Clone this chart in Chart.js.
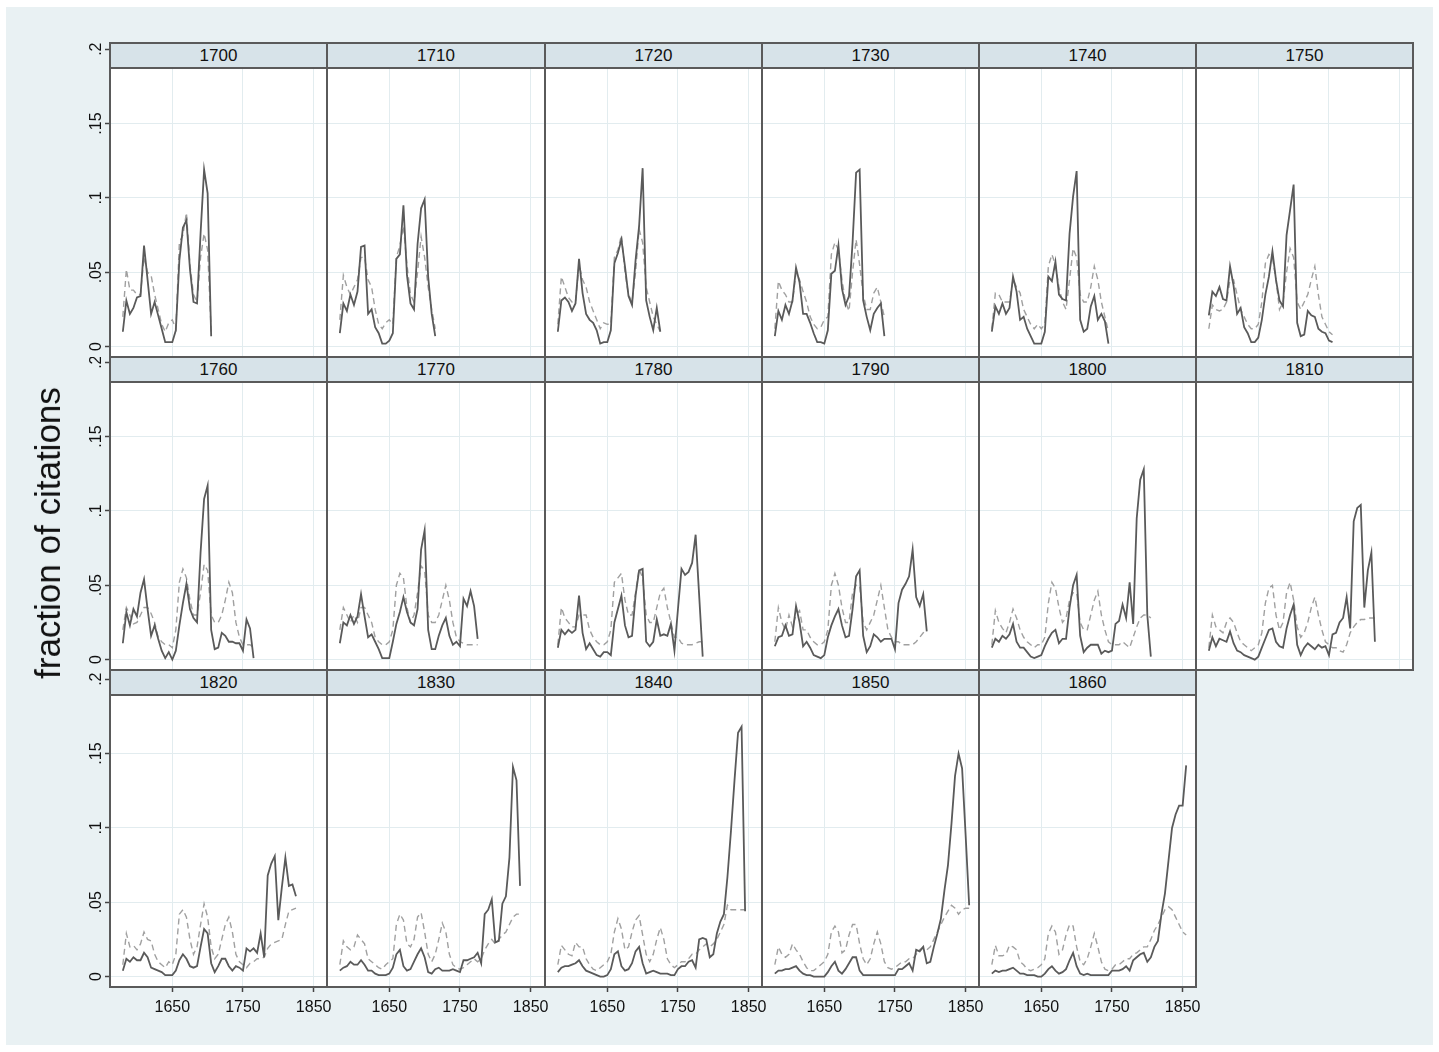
<!DOCTYPE html>
<html>
<head>
<meta charset="utf-8">
<script src="https://cdn.jsdelivr.net/npm/chart.js@4.4.1/dist/chart.umd.min.js"></script>
<style>
  html, body { margin: 0; padding: 0; background: #fff; }
  body { width: 1439px; height: 1052px; position: relative; overflow: hidden;
         font-family: "Liberation Sans", Arial, Helvetica, sans-serif; }
  #bg { position: absolute; left: 6px; top: 7px; width: 1427px; height: 1038px; background: #E9F1F3; }
  .plot { position: absolute; background: #fff; z-index: 1; }
  canvas { position: absolute; z-index: 2; }
  .hdr { position: absolute; z-index: 3; box-sizing: border-box; background: #D7E3E9;
         border: 2px solid #5a5a5a; text-align: center; font-size: 17px; line-height: 23px; color: #111; }
  .edge { position: absolute; z-index: 4; box-sizing: border-box; border: 2px solid #5a5a5a; pointer-events: none; }
  #ytitle { position: absolute; z-index: 5; left: 48px; top: 533px; white-space: nowrap;
            transform: translate(-50%, -50%) rotate(-90deg); font-size: 35px; color: #111; }
</style>
</head>
<body>
<div id="bg"></div>
<div id="ytitle">fraction of citations</div>
<script>
// x positions of the 5-year bins
const YEARS = [1580,1585,1590,1595,1600,1605,1610,1615,1620,1625,1630,1635,1640,1645,1650,1655,
  1660,1665,1670,1675,1680,1685,1690,1695,1700,1705,1710,1715,1720,1725,1730,1735,1740,1745,
  1750,1755,1760,1765,1770,1775,1780,1785,1790,1795,1800,1805,1810,1815,1820,1825,1830,1835,
  1840,1845,1850,1855];
const X_TICKS = [1650, 1750, 1850];
const Y_TICKS = [0, 0.05, 0.1, 0.15, 0.2];

// solid = citations of the panel decade, dashed = comparison series
const solid1700 = [0.010,0.031,0.022,0.026,0.033,0.034,0.068,0.045,0.022,0.030,0.021,0.012,0.003,0.003,0.003,0.011,0.058,0.080,0.085,0.052,0.030,0.029,0.076,0.119,0.103,0.007];
const dashed1700 = [0.020,0.052,0.038,0.038,0.035,0.035,0.060,0.050,0.048,0.035,0.025,0.015,0.010,0.016,0.018,0.012,0.070,0.075,0.090,0.055,0.035,0.030,0.060,0.076,0.065,0.010];
const solid1710 = [0.009,0.029,0.024,0.035,0.028,0.037,0.067,0.068,0.022,0.025,0.013,0.009,0.002,0.002,0.004,0.009,0.059,0.062,0.095,0.048,0.029,0.025,0.069,0.093,0.099,0.047,0.022,0.007];
const dashed1710 = [0.018,0.048,0.040,0.035,0.040,0.045,0.060,0.060,0.045,0.040,0.025,0.015,0.012,0.016,0.018,0.015,0.060,0.068,0.081,0.055,0.035,0.030,0.050,0.074,0.060,0.040,0.025,0.012];
const solid1720 = [0.010,0.031,0.033,0.030,0.024,0.029,0.059,0.036,0.022,0.018,0.016,0.011,0.002,0.003,0.003,0.011,0.056,0.063,0.072,0.054,0.034,0.028,0.058,0.081,0.120,0.031,0.020,0.011,0.026,0.010];
const dashed1720 = [0.015,0.047,0.040,0.033,0.030,0.030,0.055,0.045,0.040,0.030,0.024,0.018,0.012,0.016,0.015,0.015,0.060,0.065,0.075,0.050,0.035,0.030,0.050,0.079,0.070,0.040,0.030,0.020,0.015,0.010];
const solid1730 = [0.007,0.024,0.018,0.028,0.022,0.031,0.053,0.043,0.022,0.022,0.016,0.009,0.003,0.003,0.002,0.011,0.049,0.051,0.068,0.039,0.028,0.034,0.070,0.117,0.119,0.031,0.020,0.011,0.022,0.026,0.029,0.007];
const dashed1730 = [0.012,0.044,0.038,0.035,0.030,0.030,0.050,0.045,0.037,0.030,0.020,0.015,0.012,0.013,0.018,0.020,0.062,0.070,0.065,0.045,0.030,0.024,0.050,0.072,0.055,0.035,0.025,0.025,0.036,0.040,0.030,0.020];
const solid1740 = [0.010,0.027,0.022,0.029,0.022,0.026,0.047,0.037,0.018,0.020,0.012,0.007,0.002,0.002,0.002,0.010,0.047,0.044,0.057,0.035,0.032,0.031,0.076,0.101,0.118,0.018,0.010,0.012,0.027,0.034,0.018,0.022,0.017,0.002];
const dashed1740 = [0.012,0.036,0.035,0.030,0.030,0.030,0.045,0.040,0.036,0.025,0.020,0.015,0.012,0.015,0.012,0.015,0.054,0.062,0.055,0.040,0.030,0.025,0.045,0.066,0.060,0.035,0.030,0.030,0.040,0.054,0.045,0.030,0.020,0.010];
const solid1750 = [0.021,0.037,0.034,0.040,0.032,0.031,0.054,0.041,0.022,0.026,0.013,0.009,0.003,0.003,0.006,0.018,0.035,0.047,0.064,0.045,0.031,0.027,0.075,0.092,0.109,0.016,0.007,0.008,0.024,0.021,0.020,0.012,0.010,0.009,0.004,0.003];
const dashed1750 = [0.012,0.028,0.025,0.024,0.025,0.030,0.045,0.045,0.035,0.025,0.020,0.015,0.012,0.012,0.015,0.030,0.056,0.062,0.060,0.045,0.025,0.030,0.050,0.066,0.060,0.030,0.025,0.030,0.035,0.045,0.054,0.035,0.020,0.015,0.010,0.008];
const solid1760 = [0.011,0.032,0.023,0.034,0.029,0.045,0.054,0.034,0.016,0.023,0.014,0.006,0.001,0.005,0.000,0.006,0.023,0.038,0.051,0.034,0.028,0.025,0.072,0.108,0.117,0.020,0.007,0.008,0.018,0.016,0.012,0.012,0.011,0.011,0.006,0.027,0.021,0.001];
const dashed1760 = [0.020,0.035,0.030,0.024,0.025,0.030,0.035,0.035,0.031,0.025,0.015,0.012,0.010,0.010,0.008,0.020,0.052,0.061,0.055,0.040,0.030,0.030,0.045,0.064,0.060,0.030,0.025,0.025,0.030,0.040,0.052,0.045,0.025,0.015,0.010,0.010,0.010,0.008];
const solid1770 = [0.011,0.025,0.023,0.030,0.024,0.029,0.044,0.029,0.015,0.017,0.012,0.007,0.001,0.001,0.001,0.012,0.024,0.032,0.042,0.032,0.025,0.023,0.034,0.074,0.087,0.020,0.007,0.007,0.016,0.023,0.028,0.016,0.010,0.012,0.009,0.041,0.036,0.046,0.036,0.014];
const dashed1770 = [0.020,0.035,0.030,0.025,0.030,0.025,0.035,0.035,0.030,0.025,0.015,0.012,0.010,0.010,0.012,0.020,0.050,0.058,0.055,0.035,0.025,0.030,0.045,0.063,0.060,0.030,0.025,0.025,0.030,0.040,0.050,0.040,0.025,0.015,0.012,0.011,0.010,0.010,0.010,0.010];
const solid1780 = [0.008,0.020,0.017,0.020,0.018,0.020,0.043,0.018,0.007,0.011,0.007,0.003,0.002,0.005,0.005,0.003,0.025,0.034,0.043,0.023,0.015,0.016,0.043,0.060,0.061,0.012,0.009,0.012,0.027,0.016,0.017,0.016,0.024,0.006,0.034,0.061,0.057,0.059,0.065,0.084,0.043,0.002];
const dashed1780 = [0.010,0.035,0.028,0.025,0.022,0.022,0.030,0.030,0.030,0.020,0.015,0.012,0.010,0.010,0.012,0.020,0.052,0.055,0.058,0.040,0.030,0.030,0.045,0.061,0.055,0.030,0.025,0.025,0.035,0.045,0.048,0.035,0.025,0.015,0.015,0.011,0.010,0.010,0.010,0.011,0.012,0.012];
const solid1790 = [0.009,0.015,0.016,0.023,0.016,0.017,0.036,0.025,0.009,0.012,0.008,0.003,0.002,0.001,0.003,0.015,0.023,0.029,0.034,0.023,0.015,0.016,0.034,0.056,0.060,0.016,0.005,0.009,0.017,0.015,0.012,0.014,0.014,0.014,0.007,0.038,0.047,0.051,0.056,0.074,0.042,0.036,0.044,0.019];
const dashed1790 = [0.012,0.035,0.025,0.020,0.030,0.022,0.030,0.033,0.020,0.020,0.015,0.012,0.010,0.010,0.012,0.020,0.050,0.058,0.050,0.035,0.025,0.025,0.045,0.050,0.050,0.025,0.020,0.025,0.030,0.040,0.050,0.035,0.020,0.015,0.012,0.012,0.010,0.010,0.010,0.010,0.012,0.015,0.018,0.020];
const solid1800 = [0.008,0.014,0.012,0.016,0.014,0.017,0.024,0.012,0.008,0.008,0.005,0.002,0.001,0.002,0.003,0.009,0.014,0.018,0.020,0.011,0.014,0.014,0.035,0.050,0.057,0.016,0.005,0.008,0.010,0.010,0.010,0.004,0.006,0.005,0.006,0.024,0.026,0.037,0.028,0.052,0.024,0.095,0.121,0.128,0.030,0.002];
const dashed1800 = [0.010,0.033,0.025,0.021,0.018,0.025,0.034,0.028,0.020,0.015,0.012,0.010,0.008,0.010,0.010,0.015,0.038,0.052,0.048,0.035,0.025,0.028,0.040,0.045,0.045,0.025,0.020,0.020,0.030,0.040,0.046,0.030,0.020,0.012,0.010,0.010,0.010,0.012,0.010,0.008,0.015,0.022,0.028,0.030,0.030,0.028];
const solid1810 = [0.006,0.015,0.009,0.014,0.013,0.012,0.019,0.011,0.006,0.005,0.003,0.002,0.001,0.000,0.002,0.008,0.014,0.020,0.021,0.012,0.009,0.008,0.021,0.030,0.037,0.010,0.003,0.008,0.011,0.009,0.007,0.010,0.008,0.009,0.003,0.017,0.018,0.025,0.028,0.042,0.021,0.093,0.102,0.104,0.035,0.060,0.072,0.012];
const dashed1810 = [0.008,0.030,0.022,0.020,0.018,0.025,0.028,0.025,0.018,0.012,0.010,0.008,0.006,0.008,0.010,0.018,0.038,0.048,0.050,0.030,0.020,0.025,0.045,0.052,0.040,0.022,0.015,0.018,0.025,0.035,0.042,0.030,0.020,0.012,0.010,0.008,0.008,0.006,0.005,0.010,0.018,0.022,0.025,0.027,0.027,0.028,0.028,0.028];
const solid1820 = [0.004,0.012,0.010,0.013,0.011,0.011,0.016,0.013,0.006,0.005,0.004,0.003,0.001,0.001,0.001,0.004,0.011,0.015,0.012,0.007,0.006,0.007,0.020,0.032,0.029,0.009,0.003,0.007,0.012,0.012,0.007,0.004,0.007,0.006,0.004,0.019,0.017,0.019,0.016,0.029,0.013,0.068,0.076,0.081,0.038,0.060,0.080,0.061,0.062,0.054];
const dashed1820 = [0.008,0.029,0.020,0.021,0.018,0.022,0.030,0.025,0.024,0.015,0.010,0.008,0.006,0.010,0.008,0.015,0.042,0.045,0.040,0.025,0.015,0.020,0.035,0.049,0.040,0.020,0.012,0.015,0.025,0.035,0.040,0.030,0.015,0.010,0.008,0.006,0.009,0.010,0.012,0.012,0.013,0.019,0.022,0.023,0.024,0.025,0.035,0.044,0.045,0.046];
const solid1830 = [0.004,0.006,0.007,0.010,0.008,0.008,0.011,0.008,0.004,0.004,0.002,0.001,0.001,0.001,0.002,0.006,0.015,0.018,0.007,0.004,0.005,0.010,0.015,0.019,0.013,0.003,0.002,0.005,0.006,0.004,0.004,0.004,0.005,0.004,0.003,0.011,0.011,0.012,0.013,0.016,0.009,0.042,0.045,0.052,0.023,0.024,0.049,0.054,0.080,0.141,0.132,0.061];
const dashed1830 = [0.008,0.024,0.020,0.018,0.020,0.028,0.025,0.022,0.012,0.010,0.008,0.006,0.005,0.008,0.010,0.012,0.035,0.042,0.038,0.022,0.020,0.025,0.040,0.043,0.030,0.015,0.010,0.015,0.025,0.036,0.030,0.015,0.008,0.006,0.005,0.006,0.008,0.010,0.012,0.010,0.012,0.018,0.022,0.025,0.022,0.025,0.028,0.030,0.035,0.040,0.042,0.042];
const solid1840 = [0.003,0.006,0.007,0.007,0.008,0.009,0.011,0.007,0.004,0.003,0.002,0.001,0.000,0.000,0.001,0.005,0.015,0.017,0.007,0.004,0.005,0.009,0.017,0.020,0.009,0.002,0.003,0.004,0.003,0.002,0.002,0.002,0.001,0.001,0.005,0.007,0.007,0.010,0.011,0.006,0.025,0.026,0.025,0.013,0.015,0.029,0.037,0.042,0.067,0.098,0.132,0.164,0.168,0.044];
const dashed1840 = [0.008,0.021,0.018,0.015,0.014,0.023,0.020,0.020,0.012,0.008,0.005,0.004,0.006,0.008,0.010,0.015,0.030,0.039,0.032,0.018,0.020,0.030,0.038,0.041,0.028,0.015,0.010,0.015,0.025,0.033,0.025,0.012,0.008,0.006,0.008,0.010,0.010,0.012,0.015,0.015,0.018,0.020,0.022,0.020,0.022,0.025,0.030,0.035,0.048,0.045,0.045,0.045,0.045,0.045];
const solid1850 = [0.002,0.004,0.004,0.005,0.005,0.006,0.007,0.004,0.002,0.001,0.001,0.000,0.000,0.000,0.000,0.003,0.007,0.010,0.004,0.002,0.005,0.009,0.013,0.013,0.004,0.001,0.001,0.001,0.001,0.001,0.001,0.001,0.001,0.001,0.001,0.005,0.005,0.007,0.009,0.004,0.018,0.017,0.020,0.009,0.010,0.020,0.029,0.039,0.058,0.075,0.103,0.135,0.150,0.140,0.095,0.048];
const dashed1850 = [0.008,0.020,0.015,0.013,0.015,0.022,0.018,0.015,0.010,0.006,0.004,0.004,0.006,0.008,0.010,0.015,0.030,0.034,0.030,0.016,0.018,0.028,0.035,0.035,0.022,0.012,0.008,0.012,0.022,0.030,0.022,0.010,0.006,0.005,0.006,0.008,0.010,0.010,0.012,0.012,0.015,0.018,0.020,0.018,0.020,0.025,0.030,0.035,0.040,0.044,0.048,0.046,0.042,0.045,0.046,0.046];
const solid1860 = [0.002,0.004,0.003,0.004,0.004,0.005,0.006,0.004,0.002,0.002,0.001,0.001,0.001,0.000,0.000,0.002,0.005,0.007,0.004,0.002,0.003,0.005,0.011,0.016,0.007,0.002,0.001,0.002,0.001,0.001,0.001,0.001,0.001,0.001,0.004,0.004,0.004,0.005,0.007,0.004,0.011,0.013,0.015,0.016,0.010,0.013,0.020,0.024,0.042,0.056,0.078,0.100,0.109,0.115,0.115,0.142];
const dashed1860 = [0.008,0.021,0.014,0.014,0.015,0.021,0.020,0.018,0.010,0.008,0.005,0.004,0.005,0.006,0.008,0.012,0.029,0.034,0.030,0.015,0.018,0.028,0.035,0.034,0.020,0.010,0.008,0.012,0.020,0.029,0.020,0.010,0.005,0.004,0.005,0.008,0.008,0.010,0.012,0.012,0.015,0.016,0.018,0.020,0.020,0.025,0.031,0.035,0.040,0.045,0.047,0.045,0.040,0.035,0.030,0.028];

const PANELS = [
  ["1700", solid1700, dashed1700], ["1710", solid1710, dashed1710], ["1720", solid1720, dashed1720],
  ["1730", solid1730, dashed1730], ["1740", solid1740, dashed1740], ["1750", solid1750, dashed1750],
  ["1760", solid1760, dashed1760], ["1770", solid1770, dashed1770], ["1780", solid1780, dashed1780],
  ["1790", solid1790, dashed1790], ["1800", solid1800, dashed1800], ["1810", solid1810, dashed1810],
  ["1820", solid1820, dashed1820], ["1830", solid1830, dashed1830], ["1840", solid1840, dashed1840],
  ["1850", solid1850, dashed1850], ["1860", solid1860, dashed1860],
];

// --- layout (px) ---
const COL_EDGES = [110, 327, 545, 762, 979, 1196, 1413];
const ROW_TOP = [43, 357, 670];
const ROW_BOTTOM = [357, 670, 987];
const HEADER_H = 25;
const ZERO_OFFSET = 10.4;     // zero line sits this far above the plot bottom
const PX_PER_UNIT = 1487;     // y: pixels per 1.0 of fraction
const PX_PER_YEAR = 0.7067;
const X_START = 1650 - 62.3 / PX_PER_YEAR;
const AXIS_W = 45, AXIS_H = 40, SPILL = 24;

const FONT = "'Liberation Sans', Arial, Helvetica, sans-serif";
const GRID = "#E2ECEF";
const TICK = "#444";

// rotated y tick labels seem to ignore the per-scale font, so set the default too
Chart.defaults.font.family = FONT;
Chart.defaults.font.size = 16;
Chart.defaults.color = "#111";

const fmtY = (v) => (v === 0 ? "0" : String(v).replace(/^0/, ""));

function addDiv(cls, l, t, w, h, text) {
  const d = document.createElement("div");
  d.className = cls;
  Object.assign(d.style, { left: l + "px", top: t + "px", width: w + "px", height: h + "px" });
  if (text) d.textContent = text;
  document.body.appendChild(d);
  return d;
}

PANELS.forEach(([label, solid, dashed], k) => {
  const row = Math.floor(k / 6), col = k % 6;
  const left = COL_EDGES[col], w = COL_EDGES[col + 1] - left;
  const top = ROW_TOP[row], h = ROW_BOTTOM[row] - top;
  const hasY = col === 0, hasX = row === 2;

  addDiv("plot", left, top + HEADER_H, w, h - HEADER_H);
  addDiv("hdr", left - 1, top - 1, w + 2, HEADER_H + 2, label);
  addDiv("edge", left - 1, top - 1, w + 2, h + 2);

  const cv = document.createElement("canvas");
  const cl = left - (hasY ? AXIS_W : 0);
  const cw = w + (hasY ? AXIS_W : 0) + (hasX ? SPILL : 0);
  const ch = h + (hasX ? AXIS_H : 0);
  cv.width = cw; cv.height = ch;
  Object.assign(cv.style, { left: cl + "px", top: top + "px", width: cw + "px", height: ch + "px" });
  document.body.appendChild(cv);

  const pts = (arr) => arr.map((y, i) => ({ x: YEARS[i], y }));

  new Chart(cv, {
    type: "line",
    data: {
      datasets: [
        { data: pts(solid), borderColor: "#5a5a5a", borderWidth: 1.8, pointRadius: 0, tension: 0 },
        { data: pts(dashed), borderColor: "#a0a0a0", borderWidth: 1.4, borderDash: [6, 4],
          pointRadius: 0, tension: 0 },
      ],
    },
    options: {
      responsive: false, animation: false, events: [],
      layout: { padding: { left: 0, top: 0, bottom: 0, right: hasX ? SPILL : 0 } },
      plugins: { legend: { display: false }, tooltip: { enabled: false } },
      scales: {
        x: {
          type: "linear", position: "bottom",
          min: X_START, max: X_START + w / PX_PER_YEAR,
          afterBuildTicks: (s) => { s.ticks = X_TICKS.map((v) => ({ value: v })); },
          afterFit: (s) => { s.height = hasX ? AXIS_H : 0; s.paddingLeft = 0; s.paddingRight = 0; },
          grid: { color: GRID, lineWidth: 1, drawTicks: hasX, tickLength: 5, tickColor: TICK, tickWidth: 1.5 },
          border: { display: false },
          ticks: { display: hasX, autoSkip: false, maxRotation: 0, minRotation: 0, padding: 6,
                   color: "#111", font: { family: FONT, size: 16 }, callback: (v) => String(v) },
        },
        y: {
          position: "left",
          min: -ZERO_OFFSET / PX_PER_UNIT, max: (h - ZERO_OFFSET) / PX_PER_UNIT,
          afterBuildTicks: (s) => { s.ticks = Y_TICKS.map((v) => ({ value: v })); },
          afterFit: (s) => { s.width = hasY ? AXIS_W : 0; s.paddingTop = 0; s.paddingBottom = 0; },
          grid: { color: GRID, lineWidth: 1, drawTicks: hasY, tickLength: 5, tickColor: TICK, tickWidth: 1.5 },
          border: { display: false },
          ticks: { display: hasY, autoSkip: false, minRotation: 90, maxRotation: 90, crossAlign: "center",
                   padding: -3, color: "#111", font: { family: FONT, size: 16 }, callback: fmtY },
        },
      },
    },
  });
});
</script>
</body>
</html>
